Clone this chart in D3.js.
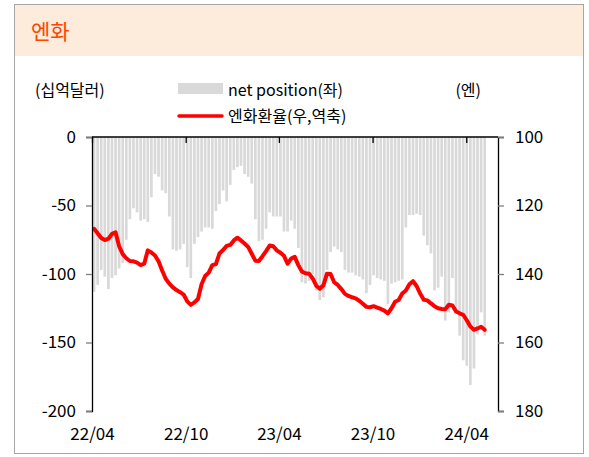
<!DOCTYPE html>
<html>
<head>
<meta charset="utf-8">
<script src="https://cdn.jsdelivr.net/npm/d3@7"></script>
<style>
  body { margin: 0; background: #fff; }
  svg text { font-family: "Noto Sans CJK KR", "Noto Sans", sans-serif; fill: #000; }
</style>
</head>
<body>
<div id="chart"></div>
<script>
// Weekly net position (십억달러), Apr 2022 - May 2024
const netPosition = [
  -113, -108, -97, -102, -111, -103, -101, -96, -92, -75,
  -60, -52, -55, -61, -60, -62, -44, -27, -29, -39,
  -41, -58, -82, -83, -82, -78, -95, -103, -78, -73,
  -69, -66, -66, -67, -54, -49, -39, -47, -35, -24,
  -22, -21, -27, -29, -34, -60, -76, -75, -67, -55,
  -58, -58, -58, -69, -69, -61, -67, -81, -106, -107,
  -105, -100, -112, -119, -117, -97, -84, -80, -82, -84,
  -97, -99, -99, -101, -102, -104, -114, -108, -101, -103,
  -104, -105, -122, -107, -106, -105, -104, -66, -57, -57,
  -56, -57, -72, -79, -85, -112, -110, -102, -134, -128,
  -103, -129, -145, -163, -167, -181, -169, -144, -128, -145
];

// 엔화환율 (엔/달러), same weeks
const yenRate = [
  126.8, 128.1, 129.5, 130.1, 129.7, 128.3, 127.8, 131.9, 134.2, 135.4,
  136.2, 136.3, 136.7, 137.4, 137.0, 133.1, 133.7, 134.6, 136.3, 139.0,
  141.4, 142.8, 143.9, 144.7, 145.3, 146.0, 148.0, 149.0, 148.3, 147.3,
  143.0, 140.6, 139.6, 137.4, 137.1, 134.0, 133.0, 131.8, 131.5, 130.2,
  129.4, 130.2, 131.1, 132.1, 134.1, 136.1, 136.2, 134.8, 133.3, 131.7,
  131.9, 133.1, 133.8, 134.7, 137.0, 135.5, 135.0, 137.4, 139.3, 139.8,
  139.9, 141.3, 143.4, 144.3, 143.3, 139.9, 140.0, 142.4, 143.2, 144.4,
  145.8, 146.4, 146.8, 147.1, 147.8, 148.7, 149.6, 149.7, 149.4, 149.8,
  150.2, 150.7, 151.5, 150.0, 148.1, 147.6, 145.7, 144.8, 143.0, 142.1,
  143.5, 145.7, 147.5, 147.7, 148.6, 149.4, 150.0, 150.2, 150.3, 149.0,
  149.2, 150.9, 151.5, 151.9, 153.5, 155.3, 156.3, 155.9, 155.4, 156.3
];

// weekly report dates (Tuesdays)
const weeks = d3.timeTuesday.range(new Date(2022, 3, 5), new Date(2024, 4, 8));

const leftTicks = [0, -50, -100, -150, -200];
const rightTicks = [100, 120, 140, 160, 180];
const dateTicks = [new Date(2022, 3, 1), new Date(2022, 9, 1), new Date(2023, 3, 1), new Date(2023, 9, 1), new Date(2024, 3, 1)];
const fmtDate = d3.timeFormat("%y/%m");

const data = weeks.map((d, i) => ({ date: d, net: netPosition[i], yen: yenRate[i] }));

const W = 589, H = 457;
const plot = { left: 92, right: 498, top: 137, bottom: 411 };

const svg = d3.select("#chart").append("svg")
  .attr("width", W)
  .attr("height", H);

// Frame and header band
svg.append("rect")
  .attr("x", 14.5).attr("y", 4.5)
  .attr("width", 569).attr("height", 449)
  .attr("fill", "#fff")
  .attr("stroke", "#a6a6a6");
svg.append("rect")
  .attr("x", 15).attr("y", 5)
  .attr("width", 568).attr("height", 51)
  .attr("fill", "#fdebdb");
svg.append("text")
  .attr("x", 31).attr("y", 39)
  .attr("font-size", 21)
  .style("fill", "#ff4500")
  .text("엔화");

// Scales
const x = d3.scaleTime()
  .domain([new Date(2022, 3, 1), new Date(2024, 5, 2)])
  .range([plot.left, plot.right]);
const yL = d3.scaleLinear().domain([-200, 0]).range([plot.bottom, plot.top]);
const yR = d3.scaleLinear().domain([100, 180]).range([plot.top, plot.bottom]);

// Bars
const barW = 2.7;
svg.append("g")
  .selectAll("rect")
  .data(data)
  .enter()
  .append("rect")
  .attr("x", (d) => x(d.date) - barW / 2)
  .attr("y", yL(0))
  .attr("width", barW)
  .attr("height", (d) => yL(d.net) - yL(0))
  .attr("fill", "#d9d9d9");

// Line
const line = d3.line()
  .x((d) => x(d.date))
  .y((d) => yR(d.yen));
svg.append("path")
  .datum(data)
  .attr("d", line)
  .attr("fill", "none")
  .attr("stroke", "#ff0000")
  .attr("stroke-width", 4)
  .attr("stroke-linejoin", "round")
  .attr("stroke-linecap", "round");

// Left axis (plain hyphen for negatives, like the original)
const gL = svg.append("g")
  .attr("transform", `translate(${plot.left},0)`)
  .call(d3.axisLeft(yL).tickValues(leftTicks).tickSize(6).tickPadding(10).tickFormat((d) => String(d)));
gL.select(".domain").attr("stroke", "#000").attr("stroke-width", 1.3);

// Right axis
const gR = svg.append("g")
  .attr("transform", `translate(${plot.right},0)`)
  .call(d3.axisRight(yR).tickValues(rightTicks).tickSize(6).tickPadding(11).tickFormat((d) => String(d)));
gR.select(".domain").attr("stroke", "#000").attr("stroke-width", 1.3);

[gL, gR].forEach((g) => {
  g.selectAll(".tick line").attr("stroke", "#7f7f7f").attr("stroke-width", 1.3);
  g.selectAll(".tick text").attr("font-size", 17).style("fill", "#000");
});

// Top date axis (line at value 0, ticks pointing down)
const gT = svg.append("g")
  .attr("transform", `translate(0,${plot.top})`)
  .call(d3.axisBottom(x).tickValues(dateTicks).tickSize(6).tickFormat(""));
gT.select(".domain").attr("stroke", "#000").attr("stroke-width", 1.3).attr("d", `M${plot.left},0H${plot.right}`);
gT.selectAll(".tick line").attr("stroke", "#000").attr("stroke-width", 1.3);

// Date labels at the bottom
const gB = svg.append("g")
  .attr("transform", `translate(0,${plot.bottom})`)
  .call(d3.axisBottom(x).tickValues(dateTicks).tickSize(0).tickPadding(17).tickFormat(fmtDate));
gB.select(".domain").remove();
gB.selectAll(".tick text").attr("font-size", 17).style("fill", "#000");

// Unit labels and legend
svg.append("text").attr("x", 35).attr("y", 96).attr("font-size", 16).text("(십억달러)");
svg.append("text").attr("x", 481).attr("y", 96).attr("font-size", 16).attr("text-anchor", "end").text("(엔)");

svg.append("rect")
  .attr("x", 178).attr("y", 83)
  .attr("width", 45).attr("height", 11)
  .attr("fill", "#d9d9d9");
svg.append("text").attr("x", 228).attr("y", 96).attr("font-size", 16).text("net position(좌)");

svg.append("line")
  .attr("x1", 179).attr("x2", 222)
  .attr("y1", 116).attr("y2", 116)
  .attr("stroke", "#ff0000")
  .attr("stroke-width", 3.5)
  .attr("stroke-linecap", "round");
svg.append("text").attr("x", 228).attr("y", 122).attr("font-size", 16).text("엔화환율(우,역축)");
</script>
</body>
</html>
